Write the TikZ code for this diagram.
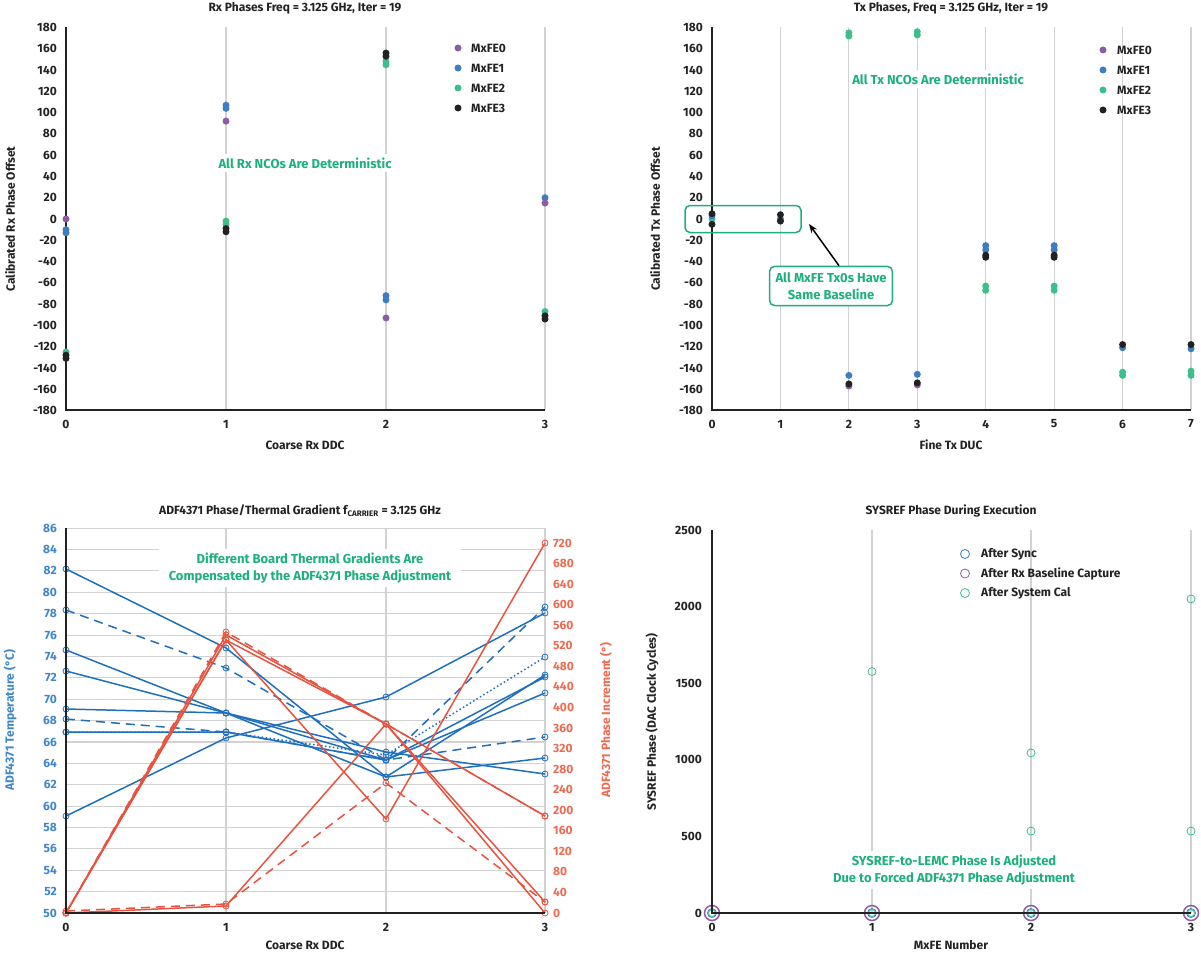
\documentclass[tikz,border=0pt]{standalone}
\usepackage{fontspec}
\setmainfont{Fira Sans}
\usetikzlibrary{arrows.meta}
\definecolor{cP}{HTML}{8E5BA6}
\definecolor{cB}{HTML}{3C7DC4}
\definecolor{cG}{HTML}{3CBF8A}
\definecolor{cK}{HTML}{222222}
\definecolor{lB}{HTML}{1F6FBF}
\definecolor{lR}{HTML}{E8533F}
\definecolor{tB}{HTML}{3F86C8}
\definecolor{tR}{HTML}{EE6A50}
\definecolor{ann}{HTML}{1DB07A}
\definecolor{grd}{HTML}{D2D2D2}
\begin{document}
\begin{tikzpicture}[x=1pt,y=-1pt,font=\fontsize{12}{14}\selectfont\bfseries,
  grid/.style={grd,line width=1.1pt},
  axis/.style={cK,line width=1.6pt},
  tk/.style={text=cK,inner sep=1pt},
  dot/.style={circle,fill=#1,inner sep=0pt,minimum size=7pt},
  ring/.style={circle,draw=#1,inner sep=0pt,minimum size=7pt,line width=0.8pt},
  ann/.style={text=ann,fill=white,align=center,font=\fontsize{13}{17}\selectfont\bfseries},
  dsh/.style={dash pattern=on 9pt off 6pt},
  dtt/.style={dash pattern=on 1.5pt off 2.5pt},
  bl/.style={lB,line width=1.5pt},
  rd/.style={lR,line width=1.5pt}]
\useasboundingbox (0,0) rectangle (1201,955);
% ===== Panel 1 =====
\node[tk] (t1) at (305,8) {Rx Phases Freq = 3.125 GHz, Iter = 19};
\foreach \xx in {226,386,545} \draw[grid] (\xx,27) -- (\xx,410);
\foreach \v in {-180,-160,...,180}{\pgfmathsetmacro\yy{219-1.0639*\v}
  \node[tk,anchor=east] at (58,\yy) {\v};}
\foreach \i/\xx in {0/66,1/226,2/386,3/545} \node[tk] at (\xx,424) {\i};
\draw[axis] (66,27) -- (66,410) -- (545,410);
\node[tk,rotate=90] (y1) at (10,219) {Calibrated Rx Phase Offset};
\node[tk] (x1) at (305,445) {Coarse Rx DDC};
\foreach \xx/\v/\c in {66/0/cP,66/-10/cB,66/-13/cB,66/-125/cG,66/-128/cK,66/-131/cK,
  226/92/cP,226/104/cB,226/107/cB,226/-2/cG,226/-5/cG,226/-9/cK,226/-12/cK,
  386/148/cG,386/145/cG,386/153/cK,386/156/cK,386/-72/cB,386/-76/cB,386/-93/cP,
  545/20/cB,545/15/cP,545/-87/cG,545/-91/cK,545/-94/cK}
  \node[dot=\c] at (\xx,{219-1.0639*\v}) {};
\foreach \r/\c/\t in {0/cP/MxFE0,1/cB/MxFE1,2/cG/MxFE2,3/cK/MxFE3}{
  \node[dot=\c] at (458,48+20*\r) {};
  \node[tk,anchor=west] at (470,48+20*\r) {\t};}
\node[ann] (a1) at (305,163) {All Rx NCOs Are Deterministic};
% ===== Panel 2 =====
\node[tk] (t2) at (951,8) {Tx Phases, Freq = 3.125 GHz, Iter = 19};
\foreach \i in {1,...,7}{\pgfmathsetmacro\xx{712+68.43*\i}\draw[grid] (\xx,27) -- (\xx,410);}
\foreach \v in {-180,-160,...,180}{\pgfmathsetmacro\yy{219-1.0639*\v}
  \node[tk,anchor=east] at (704,\yy) {\v};}
\foreach \i in {0,...,7}{\pgfmathsetmacro\xx{712+68.43*\i}\node[tk] at (\xx,424) {\i};}
\draw[axis] (712,27) -- (712,410) -- (1191,410);
\node[tk,rotate=90] (y2) at (655,219) {Calibrated Tx Phase Offset};
\node[tk] (x2) at (951,445) {Fine Tx DUC};
\foreach \i/\v/\c in {0/0/cG,0/3/cB,0/5/cK,0/-5/cK,1/0/cB,1/4/cK,1/-2/cK,
  2/175/cG,2/172/cG,2/-147/cB,2/-157/cP,2/-155/cK,
  3/176/cG,3/173/cG,3/-146/cB,3/-156/cP,3/-154/cK,
  4/-25/cB,4/-29/cB,4/-63/cG,4/-67/cG,4/-34/cK,4/-36/cK,
  5/-25/cB,5/-29/cB,5/-63/cG,5/-67/cG,5/-34/cK,5/-36/cK,
  6/-121/cB,6/-144/cG,6/-147/cG,6/-118/cK,
  7/-122/cB,7/-143/cG,7/-147/cG,7/-118/cK}
  \node[dot=\c] at ({712+68.43*\i},{219-1.0639*\v}) {};
\foreach \r/\c/\t in {0/cP/MxFE0,1/cB/MxFE1,2/cG/MxFE2,3/cK/MxFE3}{
  \node[dot=\c] at (1103,50+20*\r) {};
  \node[tk,anchor=west] at (1116,50+20*\r) {\t};}
\node[ann] (a2) at (938,79) {All Tx NCOs Are Deterministic};
\node[draw=ann,line width=1.5pt,rounded corners=5pt,minimum width=116pt,minimum height=27pt] (bx) at (743,219) {};
\node[ann,draw=ann,line width=1.5pt,rounded corners=5pt,inner sep=6pt] (a3) at (831,286) {All MxFE Tx0s Have\\Same Baseline};
\draw[ann,line width=1.5pt,-{Stealth[length=9pt]}] (a3.north) ++(8,0) coordinate (st) -- (809,224);
% ===== Panel 3 =====
\node[tk] (t3) at (300,511) {ADF4371 Phase/Thermal Gradient f\textsubscript{CARRIER} = 3.125 GHz};
\foreach \v in {50,52,...,86}{\pgfmathsetmacro\yy{913-10.69*(\v-50)}
  \draw[grid] (66,\yy) -- (545,\yy);
  \node[tk,text=tB,anchor=east] at (58,\yy) {\v};}
\foreach \v in {0,40,...,720}{\pgfmathsetmacro\yy{913-0.5139*\v}
  \node[tk,text=tR,anchor=west] at (552,\yy) {\v};}
\foreach \xx in {226,386,545} \draw[grid] (\xx,528) -- (\xx,913);
\foreach \i/\xx in {0/66,1/226,2/386,3/545} \node[tk] at (\xx,927) {\i};
\node[tk,rotate=90,text=tB] (y3) at (10,720) {ADF4371 Temperature (°C)};
\node[tk,rotate=90,text=tR] (y3r) at (606,720) {ADF4371 Phase Increment (°)};
\node[tk] (x3) at (305,945) {Coarse Rx DDC};
\node[ann,inner xsep=10pt] (a4) at (310,568) {Different Board Thermal Gradients Are\\Compensated by the ADF4371 Phase Adjustment};
\foreach \a/\b/\c/\d/\s in {569/648/777/675/solid,610/668/760/607/dsh,650/713/777/758/solid,
  671/713/760/677/solid,709/713/752/774/solid,719/732/760/737/dsh,732/732/760/693/solid,
  732/732/755/657/dtt,816/738/697/613/solid}{
  \draw[bl,\s] (66,\a) -- (226,\b) -- (386,\c) -- (545,\d);
  \foreach \xx/\yy in {66/\a,226/\b,386/\c,545/\d} \node[ring=lB,minimum size=6pt] at (\xx,\yy) {};}
\foreach \a/\b/\c/\d/\s in {913/640/819/543/solid,913/906/724/913/solid,913/635/724/816/solid,
  911/904/783/902/dsh,913/640/724/902/solid,913/632/724/816/dsh}{
  \draw[rd,\s] (66,\a) -- (226,\b) -- (386,\c) -- (545,\d);
  \foreach \xx/\yy in {66/\a,226/\b,386/\c,545/\d} \node[ring=lR,minimum size=6pt] at (\xx,\yy) {};}
\draw[axis] (66,528) -- (66,913) -- (545,913);
% ===== Panel 4 =====
\node[tk] (t4) at (951,511) {SYSREF Phase During Execution};
\foreach \xx in {872,1031,1191} \draw[grid] (\xx,530) -- (\xx,913);
\foreach \v in {0,500,...,2500}{\pgfmathsetmacro\yy{913-0.1532*\v}
  \node[tk,anchor=east] at (703,\yy) {\v};}
\foreach \i/\xx in {0/712,1/872,2/1031,3/1191} \node[tk] at (\xx,927) {\i};
\node[tk,rotate=90] (y4) at (652,722) {SYSREF Phase (DAC Clock Cycles)};
\node[tk] (x4) at (951,945) {MxFE Number};
\foreach \xx in {712,872,1031,1191}{
  \node[ring=cP,minimum size=15pt,line width=1.5pt] at (\xx,913) {};
  \node[ring=cB,minimum size=9pt] at (\xx,913) {};
  \node[ring=cG] at (\xx,913) {};}
\foreach \xx/\v in {872/1576,1031/1045,1031/535,1191/2050,1191/535}
  \node[ring=cG,minimum size=8pt] at (\xx,{913-0.1532*\v}) {};
\foreach \r/\c/\t in {0/cB/After Sync,1/cP/After Rx Baseline Capture,2/cG/After System Cal}{
  \node[ring=\c,minimum size=9pt] at (965,554+19.5*\r) {};
  \node[tk,anchor=west] at (980,554+19.5*\r) {\t};}
\node[ann] (a5) at (954,870) {SYSREF-to-LEMC Phase Is Adjusted\\Due to Forced ADF4371 Phase Adjustment};
\draw[axis] (712,530) -- (712,913) -- (1191,913);
\end{tikzpicture}
\end{document}
